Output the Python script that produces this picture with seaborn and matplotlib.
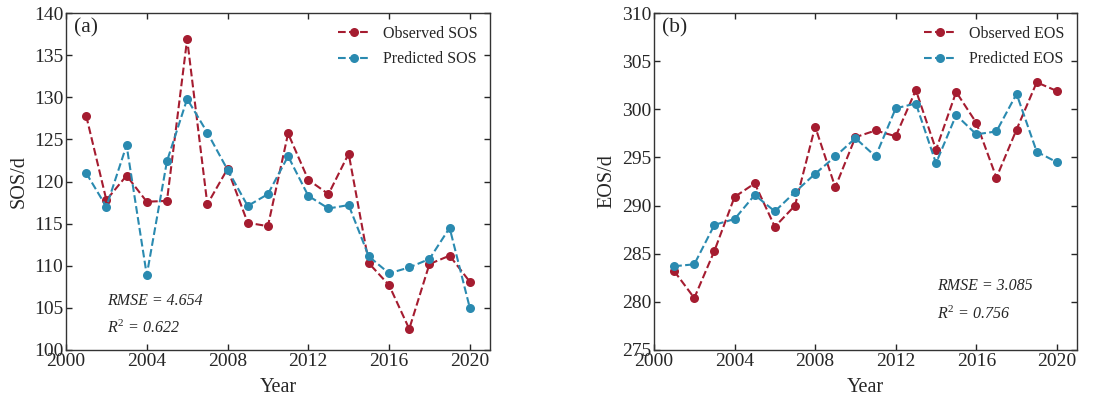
import numpy as np
import pandas as pd
import matplotlib
matplotlib.use("Agg")
import matplotlib.pyplot as plt
import seaborn as sns

years = list(range(2001, 2021))
sos_observed = [127.8, 117.8, 120.7, 117.6, 117.7, 136.9, 117.3, 121.5, 115.1, 114.7,
                125.7, 120.2, 118.5, 123.3, 110.3, 107.7, 102.5, 110.2, 111.2, 108.1]
sos_predicted = [121.0, 117.0, 124.3, 108.9, 122.4, 129.8, 125.8, 121.4, 117.1, 118.5,
                 123.0, 118.3, 116.8, 117.2, 111.1, 109.1, 109.8, 110.8, 114.5, 105.0]
eos_observed = [283.2, 280.4, 285.3, 290.9, 292.3, 287.8, 290.0, 298.2, 291.9, 297.1,
                297.8, 297.2, 302.0, 295.8, 301.8, 298.6, 292.9, 297.9, 302.8, 301.9]
eos_predicted = [283.7, 283.9, 288.0, 288.6, 291.1, 289.4, 291.4, 293.3, 295.1, 297.0,
                 295.1, 300.1, 300.6, 294.4, 299.4, 297.4, 297.7, 301.6, 295.6, 294.5]

x_ticks = [2000, 2004, 2008, 2012, 2016, 2020]
sos_ticks = [100, 105, 110, 115, 120, 125, 130, 135, 140]
eos_ticks = [275, 280, 285, 290, 295, 300, 305, 310]

RED = "#A51C30"
BLUE = "#2A8AB0"

sns.set_theme(style="ticks")
plt.rcParams['font.family'] = ['Liberation Serif', 'DejaVu Serif']
plt.rcParams['mathtext.fontset'] = 'custom'
plt.rcParams['mathtext.rm'] = 'Liberation Serif'
plt.rcParams['mathtext.it'] = 'Liberation Serif:italic'

fig = plt.figure(figsize=(11.17, 4.01), dpi=100)
ax1 = fig.add_axes([66/1117, 1-350/401, 424/1117, 337/401])
ax2 = fig.add_axes([654/1117, 1-350/401, 423/1117, 337/401])

panels = [
    (ax1, sos_observed, sos_predicted, "SOS", sos_ticks, "(a)", "4.654", "0.622", (0.097, 0.145), (0.097, 0.065)),
    (ax2, eos_observed, eos_predicted, "EOS", eos_ticks, "(b)", "3.085", "0.756", (0.67, 0.19), (0.67, 0.105)),
]

for ax, obs, pred, name, yt, tag, rmse, r2, p1, p2 in panels:
    sns.lineplot(x=years, y=obs, ax=ax, color=RED, linestyle='--', marker='o',
                 markersize=6.5, markeredgewidth=0, linewidth=1.5, label=f"Observed {name}")
    sns.lineplot(x=years, y=pred, ax=ax, color=BLUE, linestyle='--', marker='o',
                 markersize=6.5, markeredgewidth=0, linewidth=1.5, label=f"Predicted {name}")
    ax.set_xlim(2000, 2021)
    ax.set_ylim(yt[0], yt[-1])
    ax.set_xticks(x_ticks)
    ax.set_yticks(yt)
    ax.tick_params(direction='in', top=True, right=True, labelsize=14, length=4, width=1, pad=2)
    for s in ax.spines.values():
        s.set_linewidth(1.0)
        s.set_color('#333333')
    ax.set_xlabel("Year", fontsize=14.5, labelpad=6)
    ax.set_ylabel(f"{name}/d", fontsize=14.5, labelpad=4)
    ax.text(0.019, 0.985, tag, transform=ax.transAxes, fontsize=15.5, va='top', ha='left')
    ax.text(p1[0], p1[1], f"RMSE = {rmse}", transform=ax.transAxes, fontsize=11.5,
            style='italic', va='center', ha='left')
    ax.text(p2[0], p2[1], f"$R^2$ = {r2}", transform=ax.transAxes, fontsize=11.5,
            style='italic', va='center', ha='left')
    leg = ax.legend(loc='upper right', frameon=False, fontsize=11.5, handlelength=2.0,
                    borderaxespad=0.4, labelspacing=0.6)

fig.savefig("out.png", dpi=100)
